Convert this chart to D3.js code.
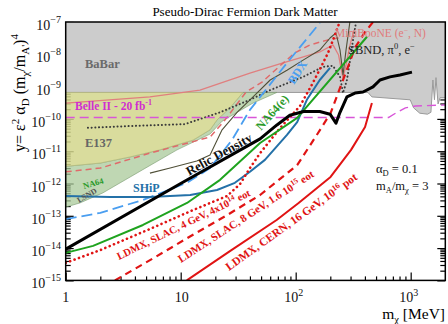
<!DOCTYPE html>
<html>
<head>
<meta charset="utf-8">
<script src="https://cdn.jsdelivr.net/npm/d3@7"></script>
<style>
  body { margin: 0; background: #fff; }
  svg { display: block; }
  text { font-family: "Liberation Serif", "Times New Roman", serif; }
</style>
</head>
<body>
<svg id="chart" width="448" height="324"></svg>
<script>
// ---- axis ticks ----
const massTicks = [1, 10, 100, 1000];
const yExponents = [-15, -14, -13, -12, -11, -10, -9, -8, -7];

// ---- excluded regions: [m_chi (MeV), y] ----
const babarFloor = [[1,6.6e-10],[425,6.6e-10],[460,4.8e-10],[990,3.9e-10],[1060,2.2e-10],[1200,1.5e-10],[1400,1.4e-10],[1500,1.6e-10],[1560,1.6e-9],[1610,3.9e-10],[1660,1.9e-9],[1730,2.9e-10],[1800,4.5e-10],[2000,4.5e-10]];
const e137Edge = [[1,3.4e-12],[2,4.3e-12],[3.6,6.6e-12],[6.6,1.1e-11],[12.8,2.2e-11],[18,4.6e-11],[20.7,9.3e-11],[26.8,2.2e-10],[34.8,6.6e-10]];
const na64LsndEdge = [[1,1.86e-13],[1.33,2.5e-13],[2.1,5.1e-13],[5.1,3.2e-12],[9.3,1.1e-11],[18,3.4e-11],[22.9,8.5e-11],[42.6,3.1e-10],[68.7,6.6e-10]];

// ---- curves ----
const relicDensity = [[1,9.3e-15],[10,1.0e-12],[30,9e-12],[49,2.4e-11],[68.7,6.5e-11],[89,1.3e-10],[117,1.7e-10],[162,1.7e-10],[199,1.4e-10],[224,7.4e-11],[243,1.6e-10],[279,4.8e-10],[328,6.3e-10],[385,6.8e-10],[470,9.8e-10],[541,1.6e-9],[661,2.0e-9],[807,2.3e-9],[1026,2.8e-9]];
const na64e = [[1,7.1e-15],[1.73,1.17e-14],[4.7,5.2e-14],[11.35,2.5e-13],[22,1.3e-12],[49,1.8e-11],[103,1.07e-10],[417,3.5e-8]];
const ship = [[1,4.1e-13],[2.43,3.8e-13],[5.4,3.8e-13],[12.1,4.4e-13],[20.7,6.3e-13],[29.6,1.05e-12],[40,2.3e-12],[54,5.4e-12],[84,3.2e-11],[103,8e-11],[125,3.9e-10],[162,1.6e-9],[199,3.8e-9]];
const bdx = [[1,7.9e-14],[2,1.23e-13],[4.7,3.1e-13],[11.35,1.05e-12],[18,3.0e-12],[27.9,2.2e-11],[40,1.9e-10],[84,5.4e-9],[162,9.3e-8]];
const ldmx4 = [[1,3.5e-15],[2,8.7e-15],[5.4,3.9e-14],[12.8,1.5e-13],[25.3,4.1e-13],[32.8,9.6e-13],[40,3.0e-12],[49,8.7e-12],[73,5.2e-11],[109,2.5e-10],[141,1.3e-9],[173,5.4e-9],[191,1.1e-8],[211,2.75e-8],[236,8.1e-8]];
const ldmx8 = [[2.68,1.0e-15],[5.98,5.2e-15],[12.8,2.6e-14],[25.3,1.05e-13],[49,4.4e-13],[103,3.7e-12],[156,3.6e-11],[201,1.5e-10],[243,9.1e-10],[285,4.1e-9],[328,1.6e-8],[401,4.9e-8],[490,1.2e-7]];
const ldmx16 = [[11.3,1.0e-15],[26.8,8.1e-15],[68.3,7.4e-14],[106,2.5e-13],[201,1.6e-12],[303,1.1e-11],[401,5.6e-11],[460,3.1e-10]];
const miniboone = [[1,3.1e-10],[5.4,4.8e-10],[14.7,7.8e-10],[40,2.6e-9],[77.6,5.4e-9],[109,7.8e-9],[162,1.18e-8],[211,1.95e-8],[236,9.5e-9],[250,3.2e-9],[258,1.85e-9],[274,4.7e-9],[297,1.95e-8],[322,5.6e-8]];
const minibooneDashed = [[1,2.3e-12],[2,3.0e-12],[5.4,8.7e-12],[18,2.75e-11],[24.3,9.3e-11],[37,6.8e-10],[51,1.38e-9],[73,4.4e-9],[98,1.1e-8],[133,1.95e-8],[188,2.75e-8],[236,3.2e-8]];
const sbnd = [[5.4,2.1e-12],[8.1,3.0e-12],[13.8,5.0e-12],[18,7.6e-12],[22.9,4.6e-11],[30.9,1.6e-10],[42.6,4.8e-10],[60,1.6e-9],[84,3.2e-9],[116,6.6e-9],[162,1.35e-8],[199,3.2e-8],[224,4.6e-8],[243,1.35e-8],[258,2.3e-9],[274,1.35e-8],[297,1.1e-7]];
const sbndDotted = [[1.56,5.3e-11],[3.62,6.0e-11],[10.9,6.9e-11],[22,1.6e-10],[40,3.9e-10],[60,7.8e-10],[116,2.0e-9],[173,4.1e-9],[211,4.4e-9],[243,2.0e-9],[258,6.3e-10],[279,1.6e-9],[297,6.6e-9],[315,2.75e-8],[335,1e-7]];
const belle2 = [[1,1.1e-10],[640,1.1e-10],[760,1.6e-10],[900,2.2e-10],[1100,2.5e-10],[2000,2.7e-10]];

// ---- layout ----
const svg = d3.select("#chart");
const x = d3.scaleLog().domain([1, 2000]).range([65.7, 445.3]);
const y = d3.scaleLog().domain([1e-15, 1e-7]).range([280.4, 22]);
const [x0, x1] = x.range();
const [yb, yt] = y.range();

svg.append("clipPath").attr("id", "plot")
  .append("rect").attr("x", x0).attr("y", yt).attr("width", x1 - x0).attr("height", yb - yt);

// ---- ticks (drawn first, regions sit on top) ----
const axes = svg.append("g");
const xMinor = [], yMinor = [];
for (let e = 0; e < 4; e++) for (let k = 2; k <= 9; k++) { const v = k * 10 ** e; if (v < 2000) xMinor.push(v); }
for (let e = -15; e < -7; e++) for (let k = 2; k <= 9; k++) yMinor.push(k * 10 ** e);

axes.append("g").attr("transform", `translate(0,${yb})`)
  .call(d3.axisTop(x).tickValues(massTicks).tickSize(8).tickFormat(""));
axes.append("g").attr("transform", `translate(0,${yb})`)
  .call(d3.axisTop(x).tickValues(xMinor).tickSize(4).tickFormat(""));
axes.append("g").attr("transform", `translate(${x0},0)`)
  .call(d3.axisRight(y).tickValues(yExponents.map(e => 10 ** e)).tickSize(8).tickFormat(""));
axes.append("g").attr("transform", `translate(${x0},0)`)
  .call(d3.axisRight(y).tickValues(yMinor).tickSize(5).tickFormat(""));
axes.append("g").attr("transform", `translate(${x1},0)`)
  .call(d3.axisLeft(y).tickValues(yExponents.map(e => 10 ** e)).tickSize(8).tickFormat(""));
axes.append("g").attr("transform", `translate(${x1},0)`)
  .call(d3.axisLeft(y).tickValues(yMinor).tickSize(5).tickFormat(""));
axes.selectAll(".domain").remove();
axes.selectAll("line").attr("stroke", "#000").attr("stroke-width", 1.2);

// ---- regions ----
const plot = svg.append("g").attr("clip-path", "url(#plot)");
const line = d3.line().x(d => x(d[0])).y(d => y(d[1]));
const babarTop = 1e-7;

plot.append("path")
  .attr("d", d3.area().x(d => x(d[0])).y0(y(babarTop) - 2).y1(d => y(d[1]))(babarFloor))
  .attr("fill", "#cccccc");
plot.append("path").attr("d", line(babarFloor))
  .attr("fill", "none").attr("stroke", "#9a9a9a").attr("stroke-width", 1);

const floorY = babarFloor[0][1];
const greenPoly = na64LsndEdge.concat([[34.8, floorY]], e137Edge.slice().reverse());
plot.append("path").attr("d", line(greenPoly) + "Z")
  .attr("fill", "#a9c99a").attr("fill-opacity", 0.75)
  .attr("stroke", "#7a9a70").attr("stroke-width", 0.6);

const e137Poly = e137Edge.concat([[1, floorY]]);
plot.append("path").attr("d", line(e137Poly) + "Z")
  .attr("fill", "#d2d68c").attr("fill-opacity", 0.85)
  .attr("stroke", "#b5b878").attr("stroke-width", 0.6);

// ---- curves ----
function curvePlain(data, color, width, dash, cap) {
  plot.append("path").attr("d", line(data))
    .attr("fill", "none").attr("stroke", color).attr("stroke-width", width)
    .attr("stroke-dasharray", dash || null)
    .attr("stroke-linecap", cap || "butt")
    .attr("stroke-linejoin", "round");
}

curvePlain(miniboone, "#e07f7f", 1.3);
curvePlain(minibooneDashed, "#e06a6a", 1.5, "6,4");
curvePlain(sbnd, "#505038", 1.1);
curvePlain(sbndDotted, "#3a3a3a", 2, "0.1,3.6", "round");
curvePlain(belle2, "#d855d8", 1.4, "9,5");
curvePlain(bdx, "#4a9ef0", 1.8, "11,5");
curvePlain(ship, "#2471a8", 2);
curvePlain(ldmx16, "#e01414", 2);
curvePlain(ldmx8, "#e01414", 2.2, "7,5");
curvePlain(ldmx4, "#e01414", 2.6, "0.1,4.6", "round");
curvePlain(na64e, "#1fa31f", 2);
curvePlain(relicDensity, "#000", 3);

// ---- frame ----
svg.append("rect").attr("x", x0).attr("y", yt).attr("width", x1 - x0).attr("height", yb - yt)
  .attr("fill", "none").attr("stroke", "#000").attr("stroke-width", 1.5);

// ---- tick labels ----
const lab = svg.append("g").attr("fill", "#111");
yExponents.forEach(e => {
  const t = lab.append("text").attr("x", 61).attr("y", y(10 ** e) + 8)
    .attr("text-anchor", "end").attr("font-size", 14);
  t.append("tspan").text("10");
  t.append("tspan").attr("dy", -7).attr("font-size", 10).text("\u2212" + (-e));
});
massTicks.forEach((m, i) => {
  const t = lab.append("text").attr("y", 302).attr("font-size", 14).attr("text-anchor", "middle");
  if (i === 0) { t.attr("x", x(m)).text("1"); }
  else if (i === 1) { t.attr("x", x(m) + 1).text("10"); }
  else {
    t.attr("x", x(m) - 2);
    t.append("tspan").text("10");
    t.append("tspan").attr("dy", -6).attr("font-size", 10).text(String(i));
  }
});

// ---- titles ----
svg.append("text").attr("x", 245).attr("y", 16).attr("text-anchor", "middle")
  .attr("font-size", 13).text("Pseudo-Dirac Fermion Dark Matter");

const xt = svg.append("text").attr("x", 445).attr("y", 319).attr("text-anchor", "end").attr("font-size", 15.5);
xt.append("tspan").text("m");
xt.append("tspan").attr("dy", 4).attr("font-size", 10.5).text("\u03c7");
xt.append("tspan").attr("dy", -4).text(" [MeV]");

const yt2 = svg.append("text").attr("transform", "translate(25,93) rotate(-90)")
  .attr("text-anchor", "middle").attr("font-size", 16);
yt2.append("tspan").text("y= \u03b5");
yt2.append("tspan").attr("dy", -6).attr("font-size", 11).text("2");
yt2.append("tspan").attr("dy", 6).text(" \u03b1");
yt2.append("tspan").attr("dy", 4).attr("font-size", 11).text("D");
yt2.append("tspan").attr("dy", -4).text(" (m");
yt2.append("tspan").attr("dy", 4).attr("font-size", 11).text("\u03c7");
yt2.append("tspan").attr("dy", -4).text("/m");
yt2.append("tspan").attr("dy", 4).attr("font-size", 11).text("A'");
yt2.append("tspan").attr("dy", -4).text(")");
yt2.append("tspan").attr("dy", -7).attr("font-size", 11).text("4");

// ---- annotations ----
const ann = svg.append("g");
ann.append("text").attr("x", 85).attr("y", 68).attr("font-size", 12.5).attr("font-weight", "bold")
  .attr("fill", "#6a6a6a").text("BaBar");
ann.append("text").attr("x", 85).attr("y", 147).attr("font-size", 12.5).attr("font-weight", "bold")
  .attr("fill", "#666").text("E137");
const bl = ann.append("text").attr("x", 75).attr("y", 110).attr("font-size", 11.5).attr("font-weight", "bold")
  .attr("fill", "#d02ed0");
bl.append("tspan").text("Belle II - 20 fb");
bl.append("tspan").attr("dy", -5).attr("font-size", 8).text("-1");

const mb = ann.append("text").attr("x", 335).attr("y", 36.5).attr("font-size", 11.5).attr("fill", "#e07a7a");
mb.append("tspan").text("MiniBooNE (e");
mb.append("tspan").attr("dy", -4).attr("font-size", 7.5).text("\u2212");
mb.append("tspan").attr("dy", 4).text(", N)");
const sb = ann.append("text").attr("x", 348).attr("y", 53.5).attr("font-size", 12.5).attr("fill", "#222");
sb.append("tspan").text("SBND, \u03c0");
sb.append("tspan").attr("dy", -5).attr("font-size", 8.5).text("0");
sb.append("tspan").attr("dy", 5).text(", e");
sb.append("tspan").attr("dy", -5).attr("font-size", 8.5).text("\u2212");

ann.append("text").attr("transform", "translate(84,189) rotate(-16)").attr("font-size", 8.5)
  .attr("font-weight", "bold").attr("fill", "#2a9a2a").text("NA64");
ann.append("text").attr("transform", "translate(79,203) rotate(-30)").attr("font-size", 8)
  .attr("font-weight", "bold").attr("fill", "#555").text("LSND");
ann.append("text").attr("x", 133).attr("y", 192).attr("font-size", 12).attr("font-weight", "bold")
  .attr("fill", "#2471a8").text("SHiP");
ann.append("text").attr("transform", "translate(189,176) rotate(-29)").attr("font-size", 13)
  .attr("font-weight", "bold").attr("fill", "#111").text("Relic Density");
ann.append("text").attr("transform", "translate(261,131) rotate(-48)").attr("font-size", 12)
  .attr("font-weight", "bold").attr("fill", "#2a9a2a").text("NA64(e)");
ann.append("text").attr("transform", "translate(294,85) rotate(-57)").attr("font-size", 12)
  .attr("font-weight", "bold").attr("fill", "#4a9ef0").text("BDX");

function rotLabel(tx, ty, ang, size, parts) {
  const t = ann.append("text").attr("transform", `translate(${tx},${ty}) rotate(${ang})`)
    .attr("font-size", size).attr("font-weight", "bold").attr("fill", "#e01414");
  parts.forEach(p => {
    const s = t.append("tspan").text(p[0]);
    if (p[1]) s.attr("dy", p[1]).attr("font-size", size * p[2]);
  });
}
rotLabel(119, 260, -26, 10.5, [["LDMX, SLAC, 4 GeV, 4x10"], ["14", -4, 0.7], [" eot", 4, 1]]);
rotLabel(181, 263, -33, 11, [["LDMX, SLAC, 8 GeV, 1.6 10"], ["15", -4, 0.7], [" eot", 4, 1]]);
rotLabel(229, 271, -35.5, 11.5, [["LDMX, CERN, 16 GeV, 10"], ["16", -4, 0.7], [" pot", 4, 1]]);

const a1 = ann.append("text").attr("x", 376).attr("y", 173).attr("font-size", 12.5).attr("fill", "#111");
a1.append("tspan").text("\u03b1");
a1.append("tspan").attr("dy", 2.5).attr("font-size", 8.5).text("D");
a1.append("tspan").attr("dy", -2.5).text(" = 0.1");
const a2 = ann.append("text").attr("x", 376).attr("y", 190).attr("font-size", 12.5).attr("fill", "#111");
a2.append("tspan").text("m");
a2.append("tspan").attr("dy", 2.5).attr("font-size", 8.5).text("A");
a2.append("tspan").attr("dy", -2.5).text("/m");
a2.append("tspan").attr("dy", 2.5).attr("font-size", 8.5).text("\u03c7");
a2.append("tspan").attr("dy", -2.5).text(" = 3");
</script>
</body>
</html>
